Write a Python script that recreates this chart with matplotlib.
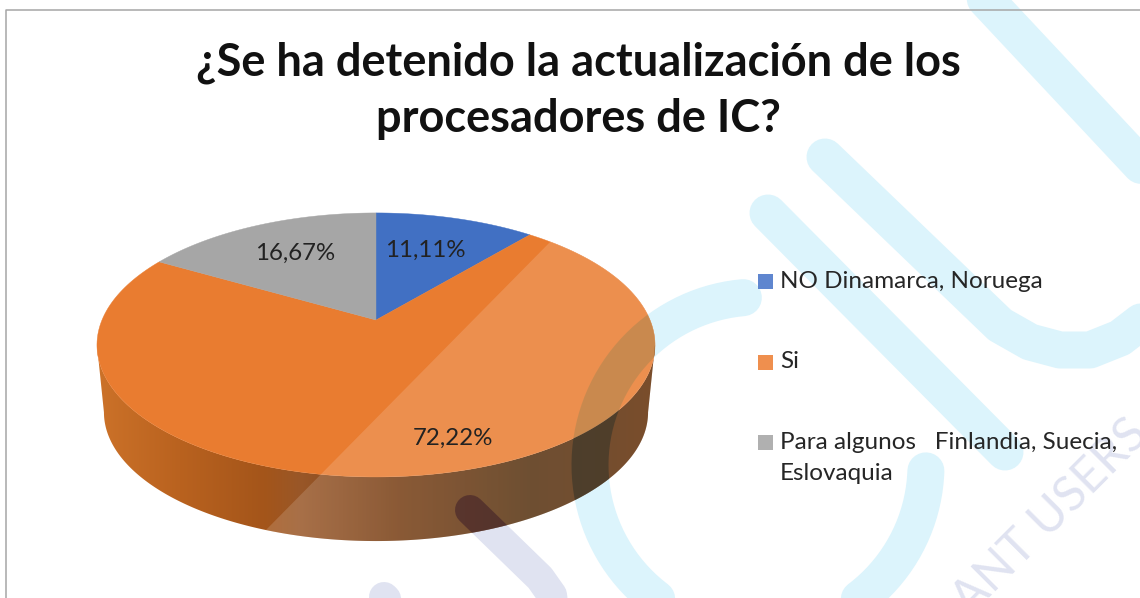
import numpy as np
from matplotlib import pyplot as plt
from matplotlib.colors import to_rgb
from matplotlib.patches import Polygon, Rectangle

titulo = '¿Se ha detenido la actualización de los\nprocesadores de IC?'
categorias = ['NO Dinamarca, Noruega', 'Si', 'Para algunos   Finlandia, Suecia,\nEslovaquia']
valores = [11.11, 72.22, 16.67]
etiquetas = ['11,11%', '72,22%', '16,67%']
colores = ['#4170c3', '#e97c30', '#a6a6a6']
colores_ley = ['#5f86cf', '#ef8f4e', '#b0b0b0']

CX, CY = 376, 320
K = 0.189
RX, RY = 274, 127.3
CIAN = '#dcf4fc'
LAVANDA = '#e0e3f1'
FUENTE = 'Lato'


def px(n):
    # tamano de letra en pixeles a puntos
    return n * 72 / 100


def proj(ang, r=1.0, esc=1.0, dy=0):
    # circulo -> perspectiva, ang desde las 12 en sentido horario
    u = r * np.sin(ang)
    v = r * np.cos(ang)
    w = 1 + K * v
    return np.column_stack([CX + esc * RX * u / w, CY + dy - esc * RY * v / w])


fig = plt.figure(figsize=(11.4, 5.98), dpi=100)
ax = fig.add_axes([0, 0, 1, 1])

# trazos de la marca de agua
t_arco = np.radians(np.linspace(95, 358, 200))
arco = (758 + 168 * np.cos(t_arco), 465 - 168 * np.sin(t_arco))
trazo_lav = ([470, 540, 552, 556], [510, 578, 595, 625])
trazos = [
    (arco, CIAN, 37),
    (([975, 1150], [-12, 175]), CIAN, 37),
    (([825, 1000, 1030, 1060, 1090, 1120, 1150], [157, 325, 342, 350, 350, 338, 315]), CIAN, 37),
    (([768, 1005], [213, 452]), CIAN, 37),
    (trazo_lav, LAVANDA, 30),
    (([384, 420], [597, 632]), LAVANDA, 30),
]
for (xs, ys), col, ancho in trazos:
    ax.plot(xs, ys, color=col, lw=px(ancho), solid_capstyle='round', solid_joinstyle='round', zorder=1)

ax.text(1050, 517, 'ANT USERS', rotation=45, ha='center', va='center', rotation_mode='anchor',
        fontsize=px(48), color=LAVANDA, family=FUENTE, zorder=1)

# pared lateral
extremo = np.arcsin(K)
lado = np.linspace(np.pi / 2 + extremo, 3 * np.pi / 2 - extremo, 300)
pared = np.vstack([proj(lado), proj(lado[::-1], esc=0.975, dy=68)])
arriba = np.linspace(3 * np.pi / 2 - extremo, 2 * np.pi + np.pi / 2 + extremo, 300)
silueta = np.vstack([proj(arriba), proj(lado, esc=0.975, dy=68)])
pos = [97, 180, 264, 300, 400, 530, 660]
tonos = ['#cc7229', '#b9621f', '#a4551a', '#995728', '#763d13', '#55310f', '#642e07']
rgb = np.array([to_rgb(c) for c in tonos])
xg = np.arange(90, 670)
grad = np.stack([np.interp(xg, pos, rgb[:, i]) for i in range(3)], axis=-1)[None, :, :]
im = ax.imshow(grad, extent=(90, 670, 560, 340), aspect='auto', zorder=2, interpolation='bilinear')
im.set_clip_path(Polygon(pared, transform=ax.transData))

# porciones
ini = 0.0
for val, col in zip(valores, colores):
    fin = ini + val / sum(valores) * 2 * np.pi
    a = np.linspace(ini, fin, 200)
    ax.add_patch(Polygon(np.vstack([[CX, CY], proj(a)]), closed=True, fc=col, ec=col, lw=0.3, zorder=3))
    ini = fin

clip_sil = Polygon(silueta, transform=ax.transData)
clip_tapa = Polygon(proj(np.linspace(0, 2 * np.pi, 500)), transform=ax.transData)
clip_pared = Polygon(pared, transform=ax.transData)

# banda clara sobre la tarta
brillo = ax.add_patch(Polygon([[556, 236], [262, 534], [700, 580], [700, 200]], closed=True,
                              fc='white', alpha=0.15, lw=0, zorder=4))
brillo.set_clip_path(clip_sil)

# la marca de agua se transparenta sobre la tarta
sobre = [(arco, 37, '#8d814e', 0.36, clip_tapa),
         (arco, 37, '#2a3028', 0.5, clip_pared),
         (trazo_lav, 30, '#3c1c28', 0.55, clip_pared)]
for (xs, ys), ancho, col, alfa, clip in sobre:
    sombra, = ax.plot(xs, ys, color=col, alpha=alfa, lw=px(ancho), solid_capstyle='round', zorder=5)
    sombra.set_clip_path(clip)

# textos
ax.text(578, 91, titulo, ha='center', va='center', family=FUENTE, fontweight='bold',
        fontsize=px(45.2), color='#111111', linespacing=1.41, zorder=7)

pos_etq = [(425, 250), (453, 438), (295, 253)]
for (x, y), txt in zip(pos_etq, etiquetas):
    ax.text(x, y, txt, ha='center', va='center', family=FUENTE, fontsize=px(24), color='#222222', zorder=7)

pos_ley = [281, 362, 458]
for y, cat, col in zip(pos_ley, categorias, colores_ley):
    y0 = y - 16 if '\n' in cat else y
    ax.add_patch(Rectangle((758, y0 - 7.5), 15, 15, fc=col, lw=0, zorder=6))
    ax.text(780, y, cat, ha='left', va='center', family=FUENTE, fontsize=px(24.2), color='#262626',
            linespacing=1.6, zorder=7)

# borde del grafico
ax.plot([6, 6, 1140], [598, 10, 10], color='#a6a6a6', lw=1.1, zorder=6)

ax.set_xlim(0, 1140)
ax.set_ylim(598, 0)
ax.axis('off')
fig.savefig('out.png', dpi=100)
